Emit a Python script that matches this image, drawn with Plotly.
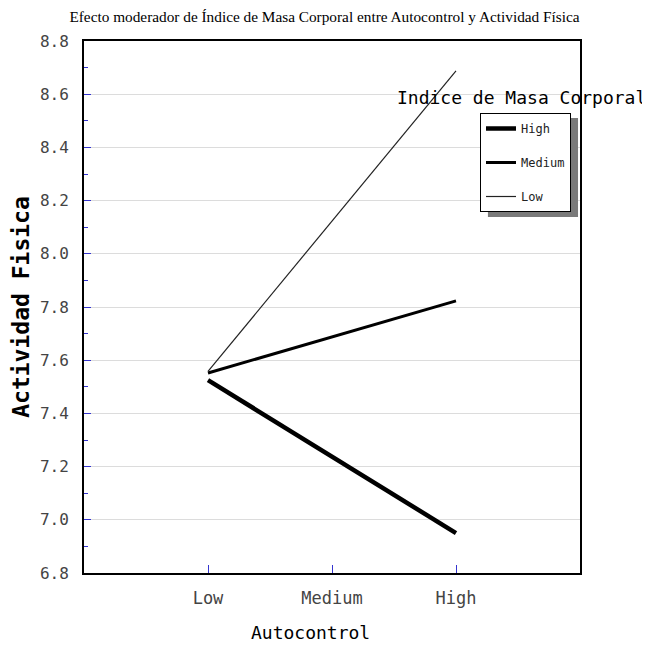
import plotly.graph_objects as go

# ---- data ----
autocontrol_levels = ["Low", "Medium", "High"]
x_points = ["Low", "High"]
series_names = ["High", "Medium", "Low"]
imc_high = [7.525, 6.95]
imc_medium = [7.552, 7.823]
imc_low = [7.558, 8.688]
y_ticks = [6.8, 7.0, 7.2, 7.4, 7.6, 7.8, 8.0, 8.2, 8.4, 8.6, 8.8]

# page body adds an 8px offset; work in reference pixel coordinates
OFF = 8
W, H = 650 - OFF, 648 - OFF
PL, PR, PT, PB = 79, 580, 41, 573  # plot-area edges in reference pixels
L, T = PL - OFF, PT - OFF
R, B = W - (PR - OFF), H - (PB - OFF)
pw, ph = PR - PL, PB - PT


def px(x):
    return (x - PL) / pw


def py(y):
    return (PB - y) / ph


mono = "DejaVu Sans Mono"
blue = "#3434d0"

fig = go.Figure()
styles = {"High": (4.5, "#000000"), "Medium": (3, "#000000"), "Low": (1.2, "#222222")}
for name, vals in zip(series_names, [imc_high, imc_medium, imc_low]):
    w, c = styles[name]
    fig.add_trace(go.Scatter(
        x=x_points, y=vals, mode="lines", name=name, legendgroup=name,
        line=dict(color=c, width=w),
    ))

fig.update_layout(
    width=W, height=H,
    margin=dict(l=L, r=R, t=T, b=B),
    paper_bgcolor="white", plot_bgcolor="white",
    title=dict(
        text="Efecto moderador de Índice de Masa Corporal entre Autocontrol y Actividad Física",
        font=dict(family="Liberation Serif", size=15.3, color="#000"),
        x=px(326), xanchor="center", y=1 - (17 - OFF) / H, yanchor="middle",
    ),
    showlegend=True,
    legend=dict(
        x=px(479), y=py(113), xanchor="left", yanchor="top",
        bgcolor="white", bordercolor="black", borderwidth=1,
        font=dict(family=mono, size=12, color="#222"),
        tracegroupgap=15, traceorder="grouped",
    ),
    xaxis=dict(
        type="category", categoryorder="array", categoryarray=autocontrol_levels,
        tickvals=autocontrol_levels, ticktext=autocontrol_levels,
        range=[-1, 3], showgrid=False,
        ticks="inside", ticklen=8, tickcolor=blue, tickwidth=1,
        showline=True, linecolor="black", linewidth=2, mirror=True,
        tickfont=dict(family=mono, size=17, color="#444"),
        ticklabelstandoff=9,
        zeroline=False,
    ),
    yaxis=dict(
        range=[6.8, 8.8], tickvals=y_ticks, tickformat=".1f",
        ticks="inside", ticklen=7, tickcolor=blue, tickwidth=1,
        minor=dict(dtick=0.1, ticks="inside", ticklen=4, tickcolor=blue, showgrid=False),
        showgrid=True, gridcolor="#dcdcdc", gridwidth=1,
        showline=True, linecolor="black", linewidth=2, mirror=True,
        tickfont=dict(family=mono, size=16, color="#444"),
        ticklabelstandoff=10,
        zeroline=False,
        title=dict(text="Actividad Fisica", font=dict(family=mono, size=23, color="#000", weight="bold"), standoff=4),
    ),
)

# legend shadow
fig.add_shape(type="rect", xref="paper", yref="paper",
              x0=px(487), x1=px(578), y0=py(118), y1=py(217),
              fillcolor="#7a7a7a", line=dict(width=0), layer="above")

# legend title
fig.add_annotation(text="Indice de Masa Corporal", xref="paper", yref="paper",
                   x=px(521), y=py(98), xanchor="center", yanchor="middle",
                   showarrow=False, font=dict(family=mono, size=18, color="#000"))
# x axis title
fig.add_annotation(text="Autocontrol", xref="paper", yref="paper",
                   x=px(308), y=py(632), xanchor="center", yanchor="middle",
                   showarrow=False, font=dict(family=mono, size=18, color="#000"))

fig.write_html("out.html")
